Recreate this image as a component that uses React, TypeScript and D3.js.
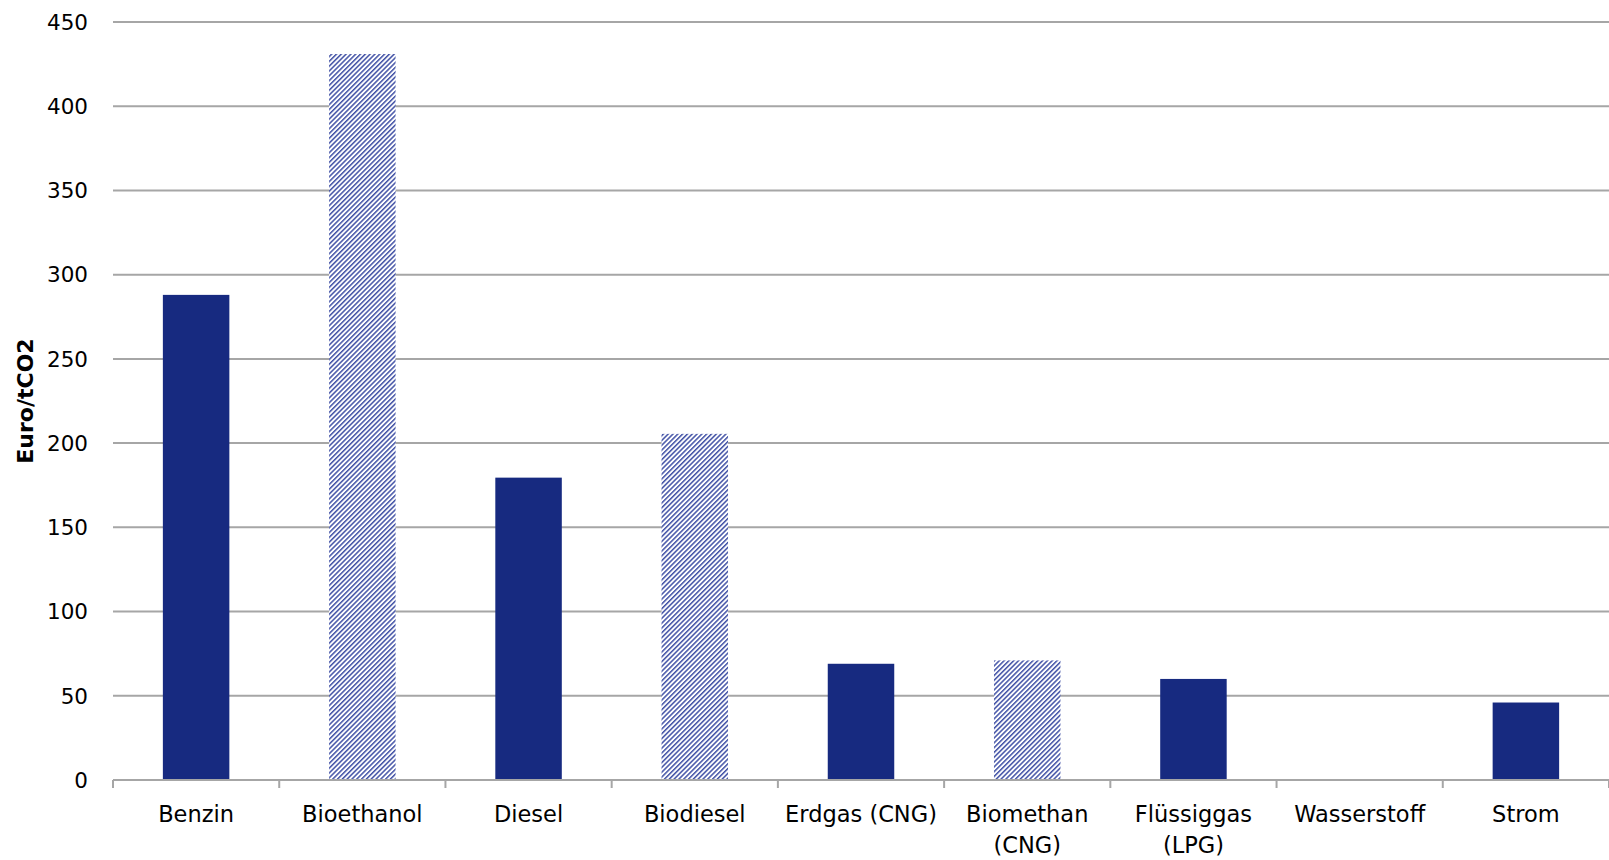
import React from "react";
import * as d3 from "d3";

const categories: string[][] = [
  ["Benzin"],
  ["Bioethanol"],
  ["Diesel"],
  ["Biodiesel"],
  ["Erdgas (CNG)"],
  ["Biomethan", "(CNG)"],
  ["Flüssiggas", "(LPG)"],
  ["Wasserstoff"],
  ["Strom"],
];
const values: number[] = [288, 431, 179.5, 205.5, 69, 71, 60, 0, 46];
const hatched: boolean[] = [false, true, false, true, false, true, false, false, false];
const yTicks: number[] = [0, 50, 100, 150, 200, 250, 300, 350, 400, 450];
const yTitle = "Euro/tCO2";

const W = 1609;
const H = 860;
const left = 113;
const right = 1609;
const top = 22;
const bottom = 780;

export default function App() {
  const x = d3
    .scaleBand<number>()
    .domain(categories.map((_, i) => i))
    .range([left, right])
    .paddingInner(0.6)
    .paddingOuter(0.3);
  const band = (right - left) / categories.length;
  const y = d3.scaleLinear().domain([0, 450]).range([bottom, top]);
  const font = "'DejaVu Sans', Verdana, sans-serif";
  const grid = "#a6a6a6";
  const solid = "#172a80";

  return (
    <svg
      width={W}
      height={H}
      style={{ position: "fixed", left: 0, top: 0, background: "#fff" }}
      fontFamily={font}
    >
      <defs>
        <pattern
          id="hatch"
          patternUnits="userSpaceOnUse"
          width={10}
          height={3.4}
          patternTransform="rotate(-45)"
        >
          <rect x={0} y={0} width={10} height={3.4} fill="#ffffff" />
          <rect x={0} y={0} width={10} height={1.5} fill="#4252a6" />
        </pattern>
      </defs>
      <rect x={0} y={0} width={W} height={H} fill="#fff" />
      {yTicks.slice(1).map((t) => (
        <line
          key={t}
          x1={left}
          x2={right}
          y1={y(t)}
          y2={y(t)}
          stroke={grid}
          strokeWidth={2}
        />
      ))}
      {values.map((v, i) => (
        <rect
          key={i}
          x={x(i)}
          width={x.bandwidth()}
          y={y(v)}
          height={y(0) - y(v)}
          fill={hatched[i] ? "url(#hatch)" : solid}
        />
      ))}
      <line x1={left} x2={right} y1={y(0)} y2={y(0)} stroke={grid} strokeWidth={2} />
      {d3.range(categories.length + 1).map((i) => (
        <line
          key={i}
          x1={left + i * band}
          x2={left + i * band}
          y1={y(0)}
          y2={y(0) + 8}
          stroke={grid}
          strokeWidth={2}
        />
      ))}
      {yTicks.map((t) => (
        <text
          key={t}
          x={88}
          y={y(t)}
          dy="0.36em"
          textAnchor="end"
          fontSize={21.5}
          fill="#000"
        >
          {t}
        </text>
      ))}
      {categories.map((lines, i) => (
        <text
          key={i}
          x={left + (i + 0.5) * band}
          y={822}
          textAnchor="middle"
          fontSize={22.5}
          fill="#000"
        >
          {lines.map((l, j) => (
            <tspan key={j} x={left + (i + 0.5) * band} dy={j === 0 ? 0 : 31}>
              {l}
            </tspan>
          ))}
        </text>
      ))}
      <text
        transform={`translate(33, 401) rotate(-90)`}
        textAnchor="middle"
        fontSize={22}
        fontWeight="bold"
        fill="#000"
      >
        {yTitle}
      </text>
    </svg>
  );
}
